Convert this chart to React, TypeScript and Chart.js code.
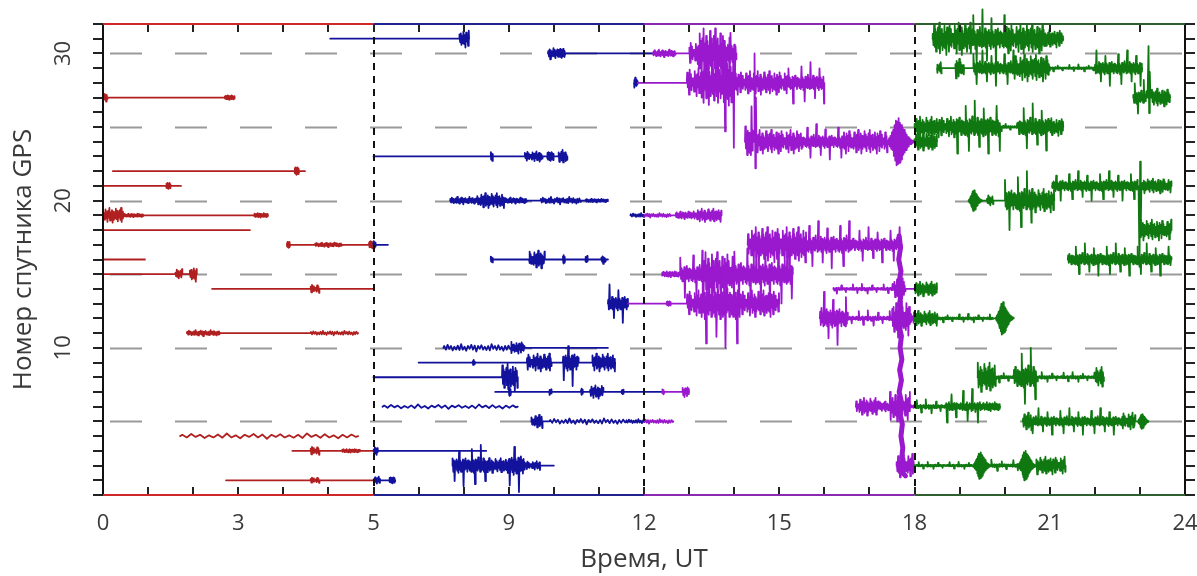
import React, { useEffect, useRef } from 'react';
import { Chart, registerables } from 'chart.js';

Chart.register(...registerables);

// [start hour, end hour, amplitude, pattern index]
type Burst = [number, number, number, number];
// [satellite number, start hour, end hour, bursts]
type Track = [number, number, number, Burst[]];

const xTickValues = [0, 3, 6, 9, 12, 15, 18, 21, 24];
const xTickLabels = ['0', '3', '5', '9', '12', '15', '18', '21', '24'];
const yTickValues = [10, 20, 30];
const gridLevels = [5, 10, 15, 20, 25, 30];
const dividerHours = [6, 12, 18];
const periodStarts = [0, 6, 12, 18];
const traceColors = ['#B02020', '#12129C', '#9A18CE', '#107810'];
const frameColors = ['#D02828', '#22228E', '#8A2AB0', '#2F5F2F'];

// hand-read scintillation shapes (relative deviations)
const noiseDense = [0.3, -0.6, 0.8, -0.4, 0.5, -0.9, 0.6, -0.3, 1.0, -0.7, 0.4, -0.5, 0.7, -1.0, 0.5, -0.6, 0.3, -0.4, 0.9, -0.5, 0.6, -0.8, 0.4, -0.3, 0.7, -0.6, 1.0, -0.9, 0.5, -0.4, 0.6, -0.7, 0.3, -0.5, 0.8, -0.6, 0.4, -1.0, 0.7, -0.3, 0.5, -0.8, 0.9, -0.4, 0.6, -0.5, 0.3, -0.2];
const noiseSpiky = [0.1, -0.15, 0.2, -0.1, 0.15, -0.2, 0.9, -0.15, 0.1, -0.2, 0.15, -0.1, 0.25, -0.8, 0.1, -0.15, 0.2, -0.1, 0.15, -0.25, 1.0, -0.2, 0.15, -0.1, 0.2, -0.3, 0.1, -0.15, 0.2, -0.9, 0.15, -0.1, 0.25, -0.2, 0.1, -0.15, 0.7, -0.2, 0.15, -0.1, 0.2, -0.15, 0.1, -0.6, 0.2, -0.1, 0.15, -0.1];
const noiseBell = [0.05, -0.1, 0.15, -0.2, 0.25, -0.3, 0.4, -0.35, 0.5, -0.6, 0.7, -0.8, 0.9, -1.0, 0.85, -0.95, 1.0, -0.9, 0.8, -0.85, 0.7, -0.75, 0.6, -0.55, 0.5, -0.45, 0.4, -0.35, 0.3, -0.25, 0.2, -0.2, 0.15, -0.1, 0.1, -0.1, 0.05, -0.05, 0.05, 0];
const noiseWobble = [0.5, -0.5, 0.8, -0.3, 0.5, -0.7, 0.3, -0.5, 0.6, -0.6, 1.0, -0.5, 0.3, -0.8, 0.5, -0.3, 0.8, -0.5, 0.6, -1.0, 0.5, -0.3, 0.7, -0.5, 0.3, -0.6, 0.5, -0.7, 1.0, -0.3, 0.5, -0.6, 0.7, -0.5, 0.3, -0.8, 0.5, -0.5, 0.6, -0.3];
const noiseHeavy = [0.4, -0.5, 0.3, -0.6, 1.6, -0.4, 0.5, -0.7, 0.3, -1.8, 0.6, -0.4, 0.5, -0.5, 0.8, -0.3, 0.4, -0.6, 2.0, -0.5, 0.3, -0.4, 0.7, -0.6, 0.5, -1.5, 0.4, -0.3, 0.6, -0.5, 0.4, -0.7, 1.4, -0.4, 0.5, -0.6, 0.3, -0.5, 0.6, -2.0, 0.5, -0.4, 0.7, -0.3, 0.4, -0.6, 0.5, -0.3];
const noiseSpike = [0, 1.0, -0.3, 0.5, 0];
const noisePatterns = [noiseDense, noiseSpiky, noiseBell, noiseWobble, noiseHeavy, noiseSpike];
// samples per hour when a pattern is repeated along a burst (0 = the pattern spans the burst once)
const patternDensity = [70, 70, 0, 0, 70, 0];

const redTracks: Track[] = [
  [31, 5.04, 8.12, [[7.9, 8.12, 0.6, 0]]],
  [27, 0, 2.92, [[0, 0.1, 0.3, 0], [2.7, 2.92, 0.15, 3]]],
  [22, 0.22, 4.48, [[4.25, 4.35, 0.25, 3]]],
  [21, 0, 1.73, [[1.4, 1.5, 0.2, 3]]],
  [19, 0, 3.66, [[0.02, 0.45, 0.5, 0], [0.45, 0.9, 0.12, 3], [3.35, 3.66, 0.15, 3]]],
  [18, 0, 3.26, []],
  [17, 4.08, 6.32, [[4.08, 4.15, 0.2, 3], [4.7, 5.3, 0.15, 3], [5.9, 6.05, 0.25, 3]]],
  [16, 0, 0.93, []],
  [15, 0, 2.08, [[1.6, 1.76, 0.35, 0], [1.92, 2.08, 0.5, 0]]],
  [14, 2.42, 6.0, [[4.6, 4.8, 0.3, 0]]],
  [11, 1.86, 5.66, [[1.86, 2.6, 0.2, 3], [4.6, 5.66, 0.15, 3]]],
  [4, 1.71, 5.66, [[1.71, 5.66, 0.18, 3]]],
  [3, 4.2, 8.5, [[4.6, 4.8, 0.3, 0], [5.3, 5.7, 0.12, 3], [6.0, 6.1, 0.3, 0]]],
  [1, 2.73, 6.48, [[4.6, 4.8, 0.2, 0], [6.0, 6.15, 0.25, 0], [6.35, 6.48, 0.2, 3]]],
];

const blueTracks: Track[] = [
  [30, 9.87, 14.05, [[9.87, 10.1, 0.4, 0], [10.1, 10.25, 0.3, 3], [12.2, 12.7, 0.25, 3], [13.0, 13.2, 0.8, 0], [13.2, 13.8, 1.7, 0], [13.8, 14.05, 1.0, 4]]],
  [28, 11.78, 16.0, [[11.78, 11.86, 0.4, 0], [12.95, 13.3, 1.0, 0], [13.3, 13.75, 1.5, 0], [13.75, 14.0, 2.2, 4], [14.0, 14.4, 0.8, 0], [14.4, 15.2, 0.8, 0], [15.2, 16.0, 0.7, 4]]],
  [23, 6.0, 10.3, [[8.6, 8.65, 0.3, 0], [9.35, 9.75, 0.35, 0], [9.85, 10.0, 0.3, 3], [10.1, 10.3, 0.45, 0]]],
  [20, 7.7, 11.2, [[7.7, 8.3, 0.25, 3], [8.3, 8.9, 0.5, 0], [8.9, 9.4, 0.2, 3], [9.7, 10.6, 0.25, 3], [10.7, 11.2, 0.12, 3]]],
  [16, 8.6, 11.2, [[8.6, 8.65, 0.2, 0], [9.45, 9.8, 0.6, 0], [10.2, 10.25, 0.3, 0], [10.7, 10.75, 0.3, 0], [11.05, 11.15, 0.3, 0]]],
  [13, 11.2, 15.0, [[11.2, 11.65, 0.65, 4], [12.5, 12.6, 0.15, 3], [12.95, 13.3, 0.9, 0], [13.3, 14.1, 1.5, 4], [14.1, 15.0, 0.9, 0]]],
  [10, 7.55, 11.2, [[7.55, 9.05, 0.25, 3], [9.05, 9.35, 0.4, 0]]],
  [9, 7.0, 11.36, [[8.2, 8.25, 0.2, 0], [9.4, 9.95, 0.6, 0], [10.2, 10.55, 0.8, 4], [10.85, 11.36, 0.6, 0]]],
  [8, 6.0, 9.2, [[8.85, 9.2, 0.9, 0]]],
  [7, 8.7, 13.0, [[9.0, 9.05, 0.3, 0], [9.9, 9.95, 0.2, 0], [10.6, 10.65, 0.25, 0], [10.8, 11.1, 0.45, 0], [11.5, 11.55, 0.2, 0], [12.4, 12.45, 0.2, 0], [12.85, 13.0, 0.35, 0]]],
  [6, 6.2, 9.2, [[6.2, 9.2, 0.15, 3]]],
  [5, 9.5, 12.65, [[9.5, 9.75, 0.45, 0], [9.9, 11.6, 0.2, 3], [11.6, 12.65, 0.15, 3]]],
  [2, 7.75, 10.0, [[7.75, 8.5, 0.7, 4], [8.5, 9.0, 0.5, 0], [9.0, 9.35, 0.9, 4], [9.35, 9.7, 0.3, 0]]],
];

const purpleTracks: Track[] = [
  [19, 11.7, 13.72, [[11.7, 12.6, 0.15, 3], [12.7, 13.1, 0.25, 3], [13.1, 13.72, 0.45, 0]]],
  [15, 12.4, 15.3, [[12.4, 12.8, 0.2, 3], [12.8, 13.3, 0.8, 4], [13.3, 14.0, 1.5, 0], [14.0, 15.3, 1.1, 4]]],
  [17, 14.3, 17.72, [[14.3, 15.6, 1.2, 0], [15.6, 16.6, 0.8, 4], [16.6, 17.72, 0.6, 4]]],
  [24, 14.24, 18.5, [[14.24, 14.42, 1.5, 4], [14.44, 14.5, 6.0, 5], [14.5, 15.5, 0.8, 0], [15.5, 16.4, 0.6, 4], [16.4, 17.4, 0.8, 0], [17.4, 18.0, 1.6, 2], [18.0, 18.5, 0.6, 0]]],
  [14, 16.2, 18.5, [[16.2, 17.55, 0.35, 1], [17.55, 17.8, 0.8, 0], [18.0, 18.5, 0.5, 0]]],
  [12, 15.9, 20.2, [[15.9, 16.5, 0.9, 4], [16.5, 17.5, 0.55, 1], [17.5, 17.9, 1.3, 0], [17.9, 18.5, 0.5, 0], [18.5, 19.75, 0.3, 1], [19.8, 20.2, 1.1, 2]]],
  [6, 16.7, 19.9, [[16.7, 17.2, 0.6, 0], [17.2, 17.45, 0.35, 0], [17.45, 17.9, 1.0, 0], [17.9, 18.7, 0.5, 1], [18.7, 19.5, 1.2, 1], [19.5, 19.9, 0.3, 3]]],
  [2, 17.6, 21.35, [[17.6, 18.0, 0.8, 0], [18.0, 19.3, 0.25, 1], [19.3, 19.7, 0.9, 2], [19.7, 20.3, 0.4, 1], [20.3, 20.7, 1.0, 2], [20.7, 21.35, 0.6, 0]]],
];

const greenTracks: Track[] = [
  [31, 18.4, 21.3, [[18.4, 19.3, 1.1, 0], [19.3, 20.0, 1.0, 4], [20.0, 20.9, 1.0, 0], [20.9, 21.3, 0.6, 0]]],
  [29, 18.5, 23.05, [[18.5, 18.6, 0.4, 0], [18.9, 19.1, 0.7, 0], [19.3, 20.2, 0.6, 4], [20.2, 21.0, 0.9, 0], [21.0, 22.0, 0.25, 1], [22.0, 23.05, 0.6, 4]]],
  [27, 22.85, 23.67, [[22.85, 23.15, 0.6, 4], [23.17, 23.24, 3.5, 5], [23.26, 23.67, 0.6, 0]]],
  [25, 18.0, 21.3, [[18.0, 18.9, 0.7, 0], [18.9, 19.9, 0.9, 4], [19.9, 20.3, 0.3, 1], [20.3, 21.0, 0.8, 4], [21.0, 21.3, 0.6, 0]]],
  [20, 19.2, 21.1, [[19.2, 19.5, 0.7, 2], [19.6, 19.75, 0.4, 0], [20.0, 20.6, 1.0, 4], [20.6, 21.1, 0.8, 0]]],
  [21, 21.05, 23.7, [[21.05, 22.95, 0.5, 4], [22.97, 23.04, -5.5, 5], [23.05, 23.7, 0.5, 0]]],
  [18, 23.0, 23.7, [[23.0, 23.7, 0.7, 0]]],
  [16, 21.4, 23.7, [[21.4, 23.7, 0.55, 4]]],
  [8, 19.4, 22.2, [[19.4, 19.8, 1.0, 0], [19.8, 20.2, 0.4, 1], [20.2, 20.7, 1.0, 4], [20.7, 22.0, 0.35, 1], [22.0, 22.2, 0.7, 0]]],
  [5, 20.4, 23.2, [[20.4, 20.6, 0.6, 0], [20.6, 22.6, 0.45, 4], [22.6, 22.9, 0.6, 0], [22.95, 23.2, 0.5, 2]]],
];

// vertical drop of the trace near 17.7 UT
const streakHours = [17.66, 17.69, 17.65, 17.7, 17.66, 17.71, 17.67, 17.7, 17.66, 17.71, 17.68, 17.72, 17.67, 17.71, 17.66, 17.72, 17.68, 17.73, 17.7, 17.74, 17.72, 17.76, 17.74, 17.8];
const streakSats = [17.6, 16.8, 16.0, 15.2, 14.5, 13.8, 13.0, 12.3, 11.5, 10.8, 10.0, 9.2, 8.5, 7.8, 7.0, 6.2, 5.5, 4.8, 4.0, 3.2, 2.6, 2.0, 1.5, 1.3];

function colorAt(h: number, palette: string[]) {
  let idx = 0;
  for (let i = 0; i < periodStarts.length; i++) if (h >= periodStarts[i]) idx = i;
  return palette[idx];
}

function buildTrack([sat, t0, t1, bursts]: Track) {
  const pts: { x: number; y: number }[] = [{ x: t0, y: sat }];
  for (const [b0, b1, amp, pi] of bursts) {
    const p = noisePatterns[pi];
    const dens = patternDensity[pi];
    const n = dens > 0 ? Math.max(8, Math.round((b1 - b0) * dens)) : p.length;
    const start = dens > 0 ? (Math.round(b0 * 20) * 2) % p.length : 0;
    pts.push({ x: b0, y: sat });
    for (let k = 0; k < n; k++) {
      pts.push({ x: b0 + ((b1 - b0) * (k + 0.5)) / n, y: sat + amp * p[(start + k) % p.length] });
    }
    pts.push({ x: b1, y: sat });
  }
  pts.push({ x: t1, y: sat });
  return pts;
}

const framePlugin = {
  id: 'frame',
  beforeDatasetsDraw(chart: any) {
    const { ctx, chartArea: a, scales } = chart;
    ctx.save();
    ctx.strokeStyle = '#9A9A9A';
    ctx.lineWidth = 2;
    ctx.setLineDash([32, 33]);
    ctx.lineDashOffset = -7;
    for (const v of gridLevels) {
      const y = Math.round(scales.y.getPixelForValue(v)) + 0.5;
      ctx.beginPath();
      ctx.moveTo(a.left, y);
      ctx.lineTo(a.right, y);
      ctx.stroke();
    }
    ctx.restore();
  },
  afterDatasetsDraw(chart: any) {
    const { ctx, chartArea: a, scales } = chart;
    const sx = scales.x;
    const sy = scales.y;
    ctx.save();
    ctx.strokeStyle = '#111';
    ctx.lineWidth = 2;
    ctx.setLineDash([7, 6]);
    for (const h of dividerHours) {
      const x = Math.round(sx.getPixelForValue(h));
      ctx.beginPath();
      ctx.moveTo(x, a.top);
      ctx.lineTo(x, a.bottom);
      ctx.stroke();
    }
    ctx.setLineDash([]);
    ctx.strokeStyle = '#222';
    ctx.lineWidth = 2;
    for (let h = 1; h < 24; h++) {
      const x = Math.round(sx.getPixelForValue(h));
      ctx.beginPath();
      ctx.moveTo(x, a.top);
      ctx.lineTo(x, a.top + 8);
      ctx.moveTo(x, a.bottom);
      ctx.lineTo(x, a.bottom - 8);
      ctx.stroke();
    }
    for (let s = 0; s <= 32; s++) {
      const y = Math.round(sy.getPixelForValue(s));
      ctx.beginPath();
      ctx.moveTo(a.left - 10, y);
      ctx.lineTo(a.left, y);
      ctx.moveTo(a.right, y);
      ctx.lineTo(a.right + 10, y);
      ctx.stroke();
    }
    ctx.lineWidth = 2;
    ctx.strokeStyle = '#111';
    ctx.beginPath();
    ctx.moveTo(a.left, a.top);
    ctx.lineTo(a.left, a.bottom);
    ctx.moveTo(a.right, a.top);
    ctx.lineTo(a.right, a.bottom);
    ctx.stroke();
    for (let i = 0; i < periodStarts.length; i++) {
      const x0 = sx.getPixelForValue(periodStarts[i]);
      const x1 = sx.getPixelForValue(i + 1 < periodStarts.length ? periodStarts[i + 1] : 24);
      ctx.strokeStyle = frameColors[i];
      ctx.beginPath();
      ctx.moveTo(x0, a.top);
      ctx.lineTo(x1, a.top);
      ctx.moveTo(x0, a.bottom);
      ctx.lineTo(x1, a.bottom);
      ctx.stroke();
    }
    ctx.restore();
  },
};

export default function App() {
  const canvasRef = useRef<HTMLCanvasElement | null>(null);

  useEffect(() => {
    document.body.style.margin = '0';
    const canvas = canvasRef.current;
    if (!canvas) return;
    const allTracks = [...redTracks, ...blueTracks, ...purpleTracks, ...greenTracks];
    const base: any[] = allTracks.map((t) => ({ data: buildTrack(t), borderWidth: 1.8 }));
    base.push({
      data: streakHours.map((h, i) => ({ x: h, y: streakSats[i] })),
      borderWidth: 5,
    });
    const datasets = base.map((d) => ({
      ...d,
      pointRadius: 0,
      tension: 0,
      clip: false,
      borderJoinStyle: 'round',
      borderCapStyle: 'round',
      borderColor: traceColors[2],
      segment: {
        borderColor: (c: any) => colorAt((c.p0.parsed.x + c.p1.parsed.x) / 2, traceColors),
      },
    }));

    const textColor = '#3A3A3A';
    const chart = new Chart(canvas, {
      type: 'line',
      data: { datasets },
      plugins: [framePlugin],
      options: {
        animation: false,
        responsive: false,
        parsing: false,
        events: [],
        layout: { padding: { top: 24, right: 12, left: 0, bottom: 0 } },
        plugins: { legend: { display: false }, tooltip: { enabled: false } },
        scales: {
          x: {
            type: 'linear',
            min: 0,
            max: 24,
            grid: { display: false },
            border: { display: false },
            afterBuildTicks: (s: any) => {
              s.ticks = xTickValues.map((value) => ({ value }));
            },
            afterFit: (s: any) => {
              s.height = 81;
              s.paddingLeft = 0;
              s.paddingRight = 0;
            },
            ticks: {
              autoSkip: false,
              maxRotation: 0,
              padding: 8,
              color: textColor,
              font: { family: 'Open Sans', size: 22 },
              callback: (_v: any, i: number) => xTickLabels[i],
            },
            title: {
              display: true,
              text: 'Время, UT',
              color: textColor,
              font: { family: 'Open Sans', size: 26 },
              padding: { top: 0, bottom: 1 },
            },
          },
          y: {
            type: 'linear',
            min: 0,
            max: 32,
            grid: { display: false },
            border: { display: false },
            afterBuildTicks: (s: any) => {
              s.ticks = yTickValues.map((value) => ({ value }));
            },
            afterFit: (s: any) => {
              s.width = 103;
              s.paddingTop = 0;
              s.paddingBottom = 0;
            },
            ticks: {
              minRotation: 90,
              maxRotation: 90,
              crossAlign: 'center',
              padding: 19,
              color: textColor,
              font: { family: 'Open Sans', size: 22 },
            },
            title: {
              display: true,
              text: 'Номер спутника GPS',
              color: textColor,
              font: { family: 'Open Sans', size: 26 },
              padding: { top: 8, bottom: 0 },
            },
          },
        },
      } as any,
    });
    return () => chart.destroy();
  }, []);

  return (
    <div style={{ width: 1197, height: 576, background: '#fff' }}>
      <canvas ref={canvasRef} width={1197} height={576} style={{ display: 'block' }} />
    </div>
  );
}
